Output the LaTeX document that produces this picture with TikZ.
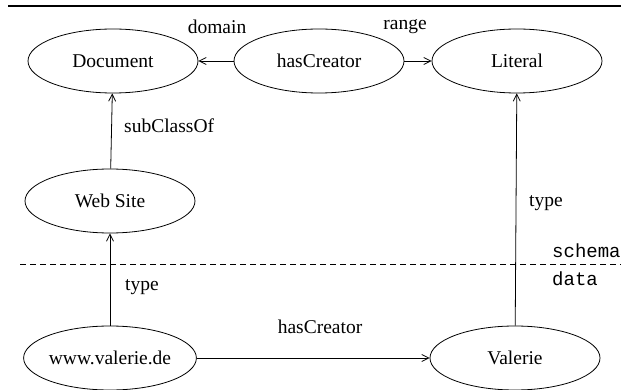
\documentclass[tikz,border=0pt]{standalone}
\usepackage{fontspec}
\setmainfont{Liberation Serif}
\setmonofont{Liberation Mono}
\usetikzlibrary{arrows.meta,shapes.geometric}

\begin{document}
\begin{tikzpicture}[x=1pt,y=-1pt,
  cls/.style={draw,ellipse,line width=0.8pt,minimum width=170pt,minimum height=64pt,inner sep=0pt,font=\fontsize{19.5}{22}\selectfont},
  rel/.style={line width=0.8pt,-{Straight Barb[length=7pt,width=7pt]}},
  lbl/.style={font=\fontsize{19.5}{22}\selectfont,inner sep=0pt},
  tag/.style={font=\ttfamily\fontsize{19}{22}\selectfont,inner sep=0pt,anchor=west}]
\useasboundingbox (0,0) rectangle (621,390);

\draw[line width=2pt] (8,6) -- (621,6);

\node[cls] (doc) at (113,61) {Document};
\node[cls] (hc) at (319,61) {hasCreator};
\node[cls] (lit) at (517,61) {Literal};
\node[cls] (web) at (110,201) {Web Site};
\node[cls] (www) at (110,358) {www.valerie.de};
\node[cls] (val) at (515,358) {Valerie};

\draw[rel] (hc.west) -- (doc.east);
\draw[rel] (hc.east) -- (lit.west);
\draw[rel] (web) -- (doc);
\draw[rel] (www) -- (web);
\draw[rel] (val) -- (lit);
\draw[rel] (www.east) -- (val.west);

\node[lbl] (ldom) at (217,27) {domain};
\node[lbl] (lran) at (405,27) {range};
\node[lbl,anchor=west] (lsub) at (124,126) {subClassOf};
\node[lbl,anchor=west] (ltyp1) at (125,287) {type};
\node[lbl,anchor=west] (ltyp2) at (529,203) {type};
\node[lbl] (lhc) at (320,327) {hasCreator};

\draw[line width=0.8pt,dash pattern=on 6pt off 4pt] (20,264) -- (621,264);
\node[tag] (sch) at (552,251) {schema};
\node[tag] (dat) at (552,279) {data};

\end{tikzpicture}
\end{document}
